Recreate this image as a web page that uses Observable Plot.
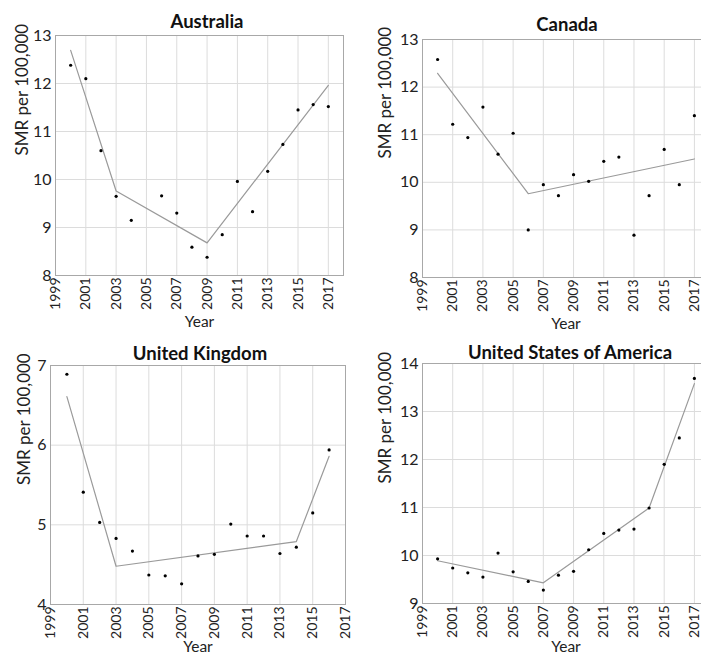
<!DOCTYPE html>
<html>
<head>
<meta charset="utf-8">
<script src="https://cdn.jsdelivr.net/npm/d3@7"></script>
<script src="https://cdn.jsdelivr.net/npm/@observablehq/plot@0.6"></script>
<style>
  html, body { margin: 0; padding: 0; background: #fff; }
  #wrap { position: relative; width: 701px; height: 658px; overflow: hidden; font-family: Lato, "Open Sans", sans-serif; }
  .panel { position: absolute; }
  .title { position: absolute; font-weight: bold; font-size: 18.5px; color: #111; transform: translateX(-50%); white-space: nowrap; line-height: 1; }
</style>
</head>
<body>
<div id="wrap"></div>
<script>
// ---- Data ----
const years = [2000,2001,2002,2003,2004,2005,2006,2007,2008,2009,2010,2011,2012,2013,2014,2015,2016,2017];
const xTicks = [1999,2001,2003,2005,2007,2009,2011,2013,2015,2017];
const xLabel = "Year";
const yLabel = "SMR per 100,000";

const australiaValues = [12.38,12.10,10.60,9.65,9.15,null,9.66,9.30,8.59,8.38,8.85,9.96,9.33,10.17,10.73,11.45,11.56,11.52];
const australiaTrendYears = [2000,2003,2009,2017];
const australiaTrendValues = [12.69,9.76,8.68,11.96];
const australiaYTicks = [8,9,10,11,12,13];

const canadaValues = [12.58,11.22,10.94,11.58,10.59,11.03,9.00,9.95,9.72,10.16,10.02,10.44,10.53,8.89,9.72,10.69,9.95,11.40];
const canadaTrendYears = [2000,2006,2017];
const canadaTrendValues = [12.29,9.76,10.49];
const canadaYTicks = [8,9,10,11,12,13];

const ukValues = [6.89,5.41,5.03,4.83,4.67,4.37,4.36,4.26,4.61,4.63,5.01,4.86,4.86,4.64,4.72,5.15,5.94,null];
const ukTrendYears = [2000,2003,2014,2016];
const ukTrendValues = [6.61,4.48,4.79,5.86];
const ukYTicks = [4,5,6,7];

const usaValues = [9.93,9.74,9.64,9.55,10.05,9.66,9.46,9.28,9.59,9.67,10.12,10.46,10.53,10.55,10.99,11.90,12.45,13.69];
const usaTrendYears = [2000,2007,2014,2017];
const usaTrendValues = [9.89,9.43,10.99,13.58];
const usaYTicks = [9,10,11,12,13,14];

const panels = [
  {title: "Australia", values: australiaValues, tY: australiaTrendYears, tV: australiaTrendValues, yTicks: australiaYTicks,
   left: 0, top: 0, width: 352, height: 340, mL: 55, mR: 9, mT: 35, mB: 65, xMax: 2018, yLabX: 33, xLabY: 51, titleX: 207, titleY: 12},
  {title: "Canada", values: canadaValues, tY: canadaTrendYears, tV: canadaTrendValues, yTicks: canadaYTicks,
   left: 350, top: 0, width: 365, height: 340, mL: 72, mR: 6, mT: 39, mB: 63, xMax: 2018, yLabX: 37, xLabY: 51, titleX: 567, titleY: 15},
  {title: "United Kingdom", values: ukValues, tY: ukTrendYears, tV: ukTrendValues, yTicks: ukYTicks,
   left: 0, top: 330, width: 360, height: 328, mL: 50, mR: 15, mT: 35, mB: 54, xMax: 2017, yLabX: 26, xLabY: 47, titleX: 200, titleY: 344},
  {title: "United States of America", values: usaValues, tY: usaTrendYears, tV: usaTrendValues, yTicks: usaYTicks,
   left: 350, top: 330, width: 365, height: 328, mL: 72, mR: 6, mT: 33, mB: 55, xMax: 2018, yLabX: 37, xLabY: 48, titleX: 570, titleY: 343}
];

const wrap = document.getElementById("wrap");

for (const p of panels) {
  const pts = years.map((y, i) => ({year: y, value: p.values[i]})).filter(d => d.value != null);
  const trend = p.tY.map((y, i) => ({year: y, value: p.tV[i]}));
  const plot = Plot.plot({
    width: p.width,
    height: p.height,
    marginLeft: p.mL,
    marginRight: p.mR,
    marginTop: p.mT,
    marginBottom: p.mB,
    style: {fontFamily: "Lato, 'Open Sans', sans-serif", fontSize: "15px", color: "#222", background: "transparent"},
    x: {domain: [1999, p.xMax]},
    y: {domain: [p.yTicks[0], p.yTicks[p.yTicks.length - 1]]},
    marks: [
      Plot.gridX(xTicks, {stroke: "#dcdcdc", strokeOpacity: 1}),
      Plot.gridY(p.yTicks, {stroke: "#dcdcdc", strokeOpacity: 1}),
      Plot.frame({stroke: "#a8a8a8"}),
      Plot.axisX(xTicks, {tickRotate: -90, tickSize: 0, tickPadding: 2, tickFormat: d => String(d),
        label: null, fontSize: 14}),
      Plot.axisY(p.yTicks, {tickSize: 0, tickPadding: 4, tickFormat: d => String(d), fontSize: 16, label: null}),
      Plot.text([xLabel], {text: d => d, frameAnchor: "bottom", dy: p.xLabY, fontSize: 15.5, fill: "#222"}),
      Plot.text([yLabel], {text: d => d, frameAnchor: "left", dx: -p.yLabX, rotate: -90, fontSize: 17, fill: "#222"}),
      Plot.line(trend, {x: "year", y: "value", stroke: "#9a9a9a", strokeWidth: 1.2}),
      Plot.dot(pts, {x: "year", y: "value", r: 1.6, fill: "#000", stroke: "none"})
    ]
  });
  plot.classList.add("panel");
  plot.style.left = p.left + "px";
  plot.style.top = p.top + "px";
  wrap.appendChild(plot);

  const t = document.createElement("div");
  t.className = "title";
  t.textContent = p.title;
  t.style.left = p.titleX + "px";
  t.style.top = p.titleY + "px";
  wrap.appendChild(t);
}
</script>
</body>
</html>
